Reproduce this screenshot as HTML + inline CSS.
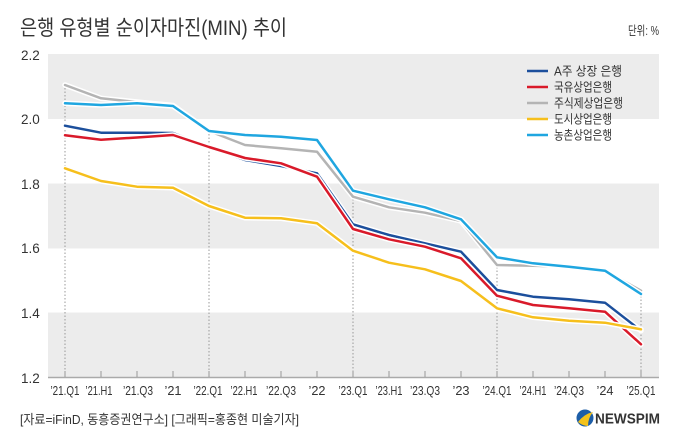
<!DOCTYPE html>
<html><head><meta charset="utf-8"><style>
html,body{margin:0;padding:0;background:#fff;}
svg{display:block;}
text{font-family:"Liberation Sans","Noto Sans CJK KR",sans-serif;fill:#333;}
</style></head><body>
<svg width="680" height="442" viewBox="0 0 680 442" xmlns="http://www.w3.org/2000/svg">
<rect width="680" height="442" fill="#fff"/>
<text x="20" y="35" font-size="21" textLength="267" lengthAdjust="spacingAndGlyphs">은행 유형별 순이자마진(MIN) 추이</text>
<text x="659" y="35" font-size="12.5" text-anchor="end" textLength="31" lengthAdjust="spacingAndGlyphs">단위: %</text>
<!-- bands -->
<rect x="48" y="54" width="611" height="65" fill="#ececec"/>
<rect x="48" y="183.5" width="611" height="65" fill="#ececec"/>
<rect x="48" y="312.5" width="611" height="64.5" fill="#ececec"/>
<!-- y labels -->
<g font-size="13.5" fill="#333">
<text x="21" y="60">2.2</text>
<text x="21" y="124">2.0</text>
<text x="21" y="189">1.8</text>
<text x="21" y="253">1.6</text>
<text x="21" y="318">1.4</text>
<text x="21" y="383">1.2</text>
</g>
<!-- dotted verticals -->
<g stroke="#999" stroke-width="1" stroke-dasharray="1.5,2">
<line x1="65" y1="88" x2="65" y2="377"/>
<line x1="209" y1="134" x2="209" y2="377"/>
<line x1="353" y1="199" x2="353" y2="377"/>
<line x1="497" y1="267" x2="497" y2="377"/>
<line x1="641" y1="296" x2="641" y2="377"/>
</g>
<!-- axis -->
<line x1="48" y1="377.5" x2="659" y2="377.5" stroke="#aaa" stroke-width="1.5"/>
<g stroke="#999" stroke-width="1">
<line x1="65" y1="371" x2="65" y2="377"/><line x1="101" y1="371" x2="101" y2="377"/><line x1="137" y1="371" x2="137" y2="377"/><line x1="173" y1="371" x2="173" y2="377"/><line x1="209" y1="371" x2="209" y2="377"/><line x1="245" y1="371" x2="245" y2="377"/><line x1="281" y1="371" x2="281" y2="377"/><line x1="317" y1="371" x2="317" y2="377"/><line x1="353" y1="371" x2="353" y2="377"/><line x1="389" y1="371" x2="389" y2="377"/><line x1="425" y1="371" x2="425" y2="377"/><line x1="461" y1="371" x2="461" y2="377"/><line x1="497" y1="371" x2="497" y2="377"/><line x1="533" y1="371" x2="533" y2="377"/><line x1="569" y1="371" x2="569" y2="377"/><line x1="605" y1="371" x2="605" y2="377"/><line x1="641" y1="371" x2="641" y2="377"/>
</g>
<!-- x labels -->
<g font-size="12.5" text-anchor="middle">
<text x="65" y="395" textLength="29" lengthAdjust="spacingAndGlyphs">’21.Q1</text>
<text x="99" y="395" textLength="27" lengthAdjust="spacingAndGlyphs">’21.H1</text>
<text x="138" y="395" textLength="30" lengthAdjust="spacingAndGlyphs">’21.Q3</text>
<text x="173" y="395" textLength="17" lengthAdjust="spacingAndGlyphs">’21</text>
<text x="208" y="395" textLength="29" lengthAdjust="spacingAndGlyphs">’22.Q1</text>
<text x="244" y="395" textLength="27" lengthAdjust="spacingAndGlyphs">’22.H1</text>
<text x="281" y="395" textLength="30" lengthAdjust="spacingAndGlyphs">’22.Q3</text>
<text x="317" y="395" textLength="17" lengthAdjust="spacingAndGlyphs">’22</text>
<text x="353" y="395" textLength="29" lengthAdjust="spacingAndGlyphs">’23.Q1</text>
<text x="389" y="395" textLength="27" lengthAdjust="spacingAndGlyphs">’23.H1</text>
<text x="425" y="395" textLength="30" lengthAdjust="spacingAndGlyphs">’23.Q3</text>
<text x="461" y="395" textLength="17" lengthAdjust="spacingAndGlyphs">’23</text>
<text x="497" y="395" textLength="29" lengthAdjust="spacingAndGlyphs">’24.Q1</text>
<text x="533" y="395" textLength="27" lengthAdjust="spacingAndGlyphs">’24.H1</text>
<text x="569" y="395" textLength="30" lengthAdjust="spacingAndGlyphs">’24.Q3</text>
<text x="605" y="395" textLength="17" lengthAdjust="spacingAndGlyphs">’24</text>
<text x="641" y="395" textLength="29" lengthAdjust="spacingAndGlyphs">’25.Q1</text>
</g>
<!-- series -->
<g fill="none" stroke-linejoin="round" stroke-linecap="round">
<polyline stroke="#fff" stroke-width="5.5" points="65,125.7 101,132.7 137,132.7 173,133 209,147 245,160 281,166 317,173.3 353,224.3 389,235 425,243.3 461,251.7 497,290 533,296.7 569,299.3 605,302.7 641,330.7"/>
<polyline stroke="#1c4f9c" stroke-width="2.5" points="65,125.7 101,132.7 137,132.7 173,133 209,147 245,160 281,166 317,173.3 353,224.3 389,235 425,243.3 461,251.7 497,290 533,296.7 569,299.3 605,302.7 641,330.7"/>
<polyline stroke="#fff" stroke-width="5.5" points="65,135.3 101,139.7 137,137.5 173,135 209,147 245,158 281,163.3 317,176.7 353,229 389,239.3 425,246.7 461,258.3 497,295.7 533,305 569,308.3 605,311.7 641,344.3"/>
<polyline stroke="#d91a2a" stroke-width="2.5" points="65,135.3 101,139.7 137,137.5 173,135 209,147 245,158 281,163.3 317,176.7 353,229 389,239.3 425,246.7 461,258.3 497,295.7 533,305 569,308.3 605,311.7 641,344.3"/>
<polyline stroke="#fff" stroke-width="5.5" points="65,85 101,98.3 137,102 173,105.5 209,131 245,145 281,148.3 317,151.7 353,196.7 389,207.3 425,212.7 461,221 497,265 533,265.7 569,266.7 605,270.7 641,290.7"/>
<polyline stroke="#b4b4b4" stroke-width="2.5" points="65,85 101,98.3 137,102 173,105.5 209,131 245,145 281,148.3 317,151.7 353,196.7 389,207.3 425,212.7 461,221 497,265 533,265.7 569,266.7 605,270.7 641,290.7"/>
<polyline stroke="#fff" stroke-width="5.5" points="65,168.3 101,181 137,186.7 173,187.7 209,206 245,217.7 281,218.3 317,223.3 353,250.7 389,262.7 425,269.3 461,281 497,308.3 533,317.3 569,320.7 605,322.7 641,329.3"/>
<polyline stroke="#f6bf1c" stroke-width="2.5" points="65,168.3 101,181 137,186.7 173,187.7 209,206 245,217.7 281,218.3 317,223.3 353,250.7 389,262.7 425,269.3 461,281 497,308.3 533,317.3 569,320.7 605,322.7 641,329.3"/>
<polyline stroke="#fff" stroke-width="5.5" points="65,103.3 101,105 137,103.3 173,106 209,131 245,135 281,136.7 317,140 353,190.7 389,199.3 425,207.3 461,219.3 497,257.3 533,263.3 569,266.7 605,270.7 641,294"/>
<polyline stroke="#1fa6e0" stroke-width="2.5" points="65,103.3 101,105 137,103.3 173,106 209,131 245,135 281,136.7 317,140 353,190.7 389,199.3 425,207.3 461,219.3 497,257.3 533,263.3 569,266.7 605,270.7 641,294"/>
</g>
<!-- legend -->
<g stroke-width="2.5">
<line x1="527" y1="71" x2="548" y2="71" stroke="#1c4f9c"/>
<line x1="527" y1="87" x2="548" y2="87" stroke="#d91a2a"/>
<line x1="527" y1="103" x2="548" y2="103" stroke="#b4b4b4"/>
<line x1="527" y1="119" x2="548" y2="119" stroke="#f6bf1c"/>
<line x1="527" y1="135" x2="548" y2="135" stroke="#1fa6e0"/>
</g>
<g font-size="12.5">
<text x="554" y="75.5" textLength="68" lengthAdjust="spacingAndGlyphs">A주 상장 은행</text>
<text x="554" y="91.5" textLength="58" lengthAdjust="spacingAndGlyphs">국유상업은행</text>
<text x="554" y="107.5" textLength="69" lengthAdjust="spacingAndGlyphs">주식제상업은행</text>
<text x="554" y="123.5" textLength="58" lengthAdjust="spacingAndGlyphs">도시상업은행</text>
<text x="554" y="139.5" textLength="58" lengthAdjust="spacingAndGlyphs">농촌상업은행</text>
</g>
<!-- footer -->
<text x="20" y="424" font-size="13" textLength="279" lengthAdjust="spacingAndGlyphs">[자료=iFinD, 동흥증권연구소] [그래픽=홍종현 미술기자]</text>
<!-- logo -->
<circle cx="585" cy="418" r="8.5" fill="#1d5ea8"/>
<path d="M578,422 Q584,414 593,412 Q588,418 588,426 Q583,426 578,422 Z" fill="#f3c21b"/>
<text x="595" y="423.5" font-size="14.5" font-weight="bold" fill="#1a1a1a" textLength="65" lengthAdjust="spacingAndGlyphs">NEWSPIM</text>
</svg>
</body></html>
